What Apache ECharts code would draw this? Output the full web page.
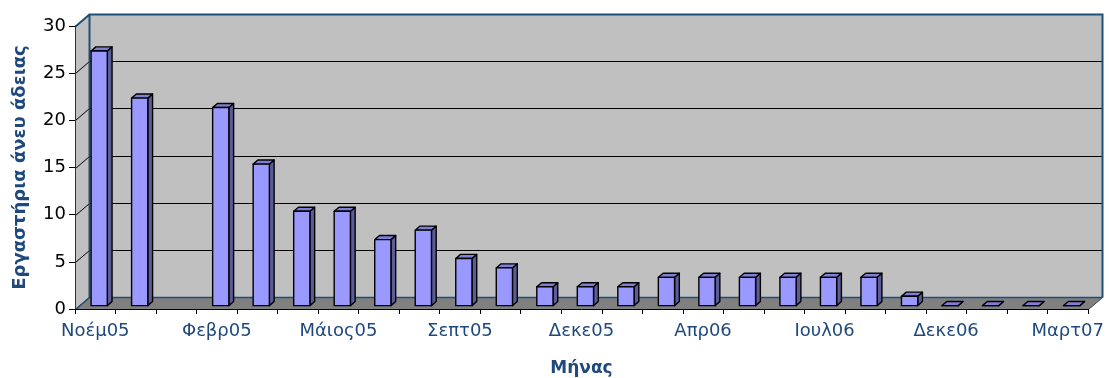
<!DOCTYPE html>
<html>
<head>
<meta charset="utf-8">
<script src="https://cdn.jsdelivr.net/npm/echarts@6/dist/echarts.min.js"></script>
<style>
  html, body { margin: 0; padding: 0; background: #ffffff; }
  #chart { width: 1109px; height: 378px; }
</style>
</head>
<body>
<div id="chart"></div>
<script>
// Months (only every third one is labelled on the axis)
const months = [
  'Νοέμ05', 'Δεκε04', 'Ιαν05', 'Φεβρ05', 'Μαρτ05', 'Απρ05',
  'Μάιος05', 'Ιουν05', 'Ιουλ05', 'Σεπτ05', 'Οκτ05', 'Νοέμ05',
  'Δεκε05', 'Ιαν06', 'Μαρτ06', 'Απρ06', 'Μάιος06', 'Ιουν06',
  'Ιουλ06', 'Σεπτ06', 'Οκτ06', 'Δεκε06', 'Ιαν07', 'Φεβρ07', 'Μαρτ07'
];
// Unlicensed workshops per month (null = no record)
const workshops = [27, 22, null, 21, 15, 10, 10, 7, 8, 5, 4, 2, 2, 2, 3, 3, 3, 3, 3, 3, 1, 0, 0, 0, 0];
// Value axis ticks
const valueTicks = [0, 5, 10, 15, 20, 25, 30];

// Pseudo-3D geometry: offset of the back wall relative to the front plane
const DEPTH_X = 14, DEPTH_Y = -12;
// Bars sit between these depth fractions, and take this share of a category
const BAR_FRONT = 0.28, BAR_BACK = 0.62, BAR_WIDTH = 0.4;

const FONT = '"DejaVu Sans", Verdana, sans-serif';
const crisp = v => Math.round(v) + 0.5;

function renderFrame(params, api) {
  const cs = params.coordSys;
  const x0 = crisp(cs.x), x1 = crisp(cs.x + cs.width);
  const yb = crisp(api.coord([0, valueTicks[0]])[1]);
  const yt = crisp(api.coord([0, valueTicks[valueTicks.length - 1]])[1]);
  const bx0 = x0 + DEPTH_X, bx1 = x1 + DEPTH_X;
  const byb = yb + DEPTH_Y, byt = yt + DEPTH_Y;
  const wall = '#1F4E79';
  const children = [
    // back wall
    { type: 'rect', shape: { x: bx0, y: byt, width: bx1 - bx0, height: byb - byt }, style: { fill: '#C0C0C0' } },
    // left side wall
    { type: 'polygon', shape: { points: [[x0, yt], [bx0, byt], [bx0, byb], [x0, yb]] }, style: { fill: '#C0C0C0' } },
    // floor
    { type: 'polygon', shape: { points: [[x0, yb], [bx0, byb], [bx1, byb], [x1, yb]] }, style: { fill: '#808080' } }
  ];
  // gridlines running along the side wall and the back wall
  valueTicks.forEach(v => {
    const y = crisp(api.coord([0, v])[1]);
    children.push({
      type: 'polyline',
      shape: { points: [[x0, y], [bx0, y + DEPTH_Y], [bx1, y + DEPTH_Y]] },
      style: { stroke: '#000000', lineWidth: 1, fill: null }
    });
  });
  // wall edges
  children.push(
    { type: 'polyline', shape: { points: [[x0, yt], [bx0, byt], [bx1, byt], [bx1, byb]] }, style: { stroke: wall, lineWidth: 2, fill: null } },
    { type: 'line', shape: { x1: bx0, y1: byt, x2: bx0, y2: byb }, style: { stroke: wall, lineWidth: 2 } },
    { type: 'polyline', shape: { points: [[x0, yb], [bx0, byb], [bx1, byb]] }, style: { stroke: wall, lineWidth: 1.5, fill: null } },
    { type: 'line', shape: { x1: bx1, y1: byb, x2: x1, y2: yb }, style: { stroke: '#404040', lineWidth: 1 } }
  );
  return { type: 'group', children };
}

function renderBar(params, api) {
  const v = api.value(1);
  if (v == null || isNaN(v)) return;
  const c = api.value(0);
  const base = api.coord([c, 0]);
  const top = api.coord([c, v]);
  const band = api.size([1, 0])[0];
  const w = band * BAR_WIDTH;
  const ox = DEPTH_X * BAR_FRONT, oy = DEPTH_Y * BAR_FRONT;
  const dx = DEPTH_X * (BAR_BACK - BAR_FRONT), dy = DEPTH_Y * (BAR_BACK - BAR_FRONT);
  const l = base[0] - w / 2 + ox, r = base[0] + w / 2 + ox;
  const t = top[1] + oy, b = base[1] + oy;
  const edge = { stroke: '#000000', lineWidth: 1.4, lineJoin: 'round' };
  return {
    type: 'group',
    children: [
      { type: 'polygon', shape: { points: [[r, t], [r + dx, t + dy], [r + dx, b + dy], [r, b]] }, style: Object.assign({ fill: '#5C5C99' }, edge) },
      { type: 'polygon', shape: { points: [[l, t], [l + dx, t + dy], [r + dx, t + dy], [r, t]] }, style: Object.assign({ fill: '#7F7FD6' }, edge) },
      { type: 'rect', shape: { x: l, y: t, width: r - l, height: b - t }, style: Object.assign({ fill: '#9999FF' }, edge) }
    ]
  };
}

const chart = echarts.init(document.getElementById('chart'), null, { renderer: 'canvas' });
chart.setOption({
  animation: false,
  backgroundColor: '#ffffff',
  grid: { left: 75, right: 21, top: 26, bottom: 69, containLabel: false, outerBoundsMode: 'none' },
  xAxis: {
    type: 'category',
    data: months,
    boundaryGap: true,
    z: 10,
    axisLine: { show: true, lineStyle: { color: '#000000', width: 1 } },
    axisTick: { show: true, interval: 0, length: 5, lineStyle: { color: '#000000' } },
    axisLabel: { interval: 2, margin: 13, fontSize: 18, color: '#1F497D', fontFamily: FONT },
    splitLine: { show: false },
    name: 'Μήνας',
    nameLocation: 'middle',
    nameGap: 51,
    nameTextStyle: { fontSize: 17, fontWeight: 'bold', color: '#1F497D', fontFamily: FONT }
  },
  yAxis: {
    type: 'value',
    min: valueTicks[0],
    max: valueTicks[valueTicks.length - 1],
    interval: valueTicks[1] - valueTicks[0],
    z: 10,
    axisLine: { show: true, lineStyle: { color: '#333333', width: 1 } },
    axisTick: { show: true, length: 6, lineStyle: { color: '#000000' } },
    axisLabel: { margin: 9, fontSize: 18, color: '#000000', fontFamily: FONT },
    splitLine: { show: false },
    name: 'Εργαστήρια άνευ άδειας',
    nameLocation: 'middle',
    nameGap: 46,
    nameTextStyle: { fontSize: 18, fontWeight: 'bold', color: '#1F497D', fontFamily: FONT }
  },
  series: [
    {
      type: 'custom',
      name: 'frame',
      z: 1,
      silent: true,
      renderItem: renderFrame,
      data: [[0, 0]]
    },
    {
      type: 'custom',
      name: 'Εργαστήρια',
      z: 3,
      renderItem: renderBar,
      encode: { x: 0, y: 1 },
      data: workshops.map((v, i) => [i, v])
    }
  ]
});
</script>
</body>
</html>
